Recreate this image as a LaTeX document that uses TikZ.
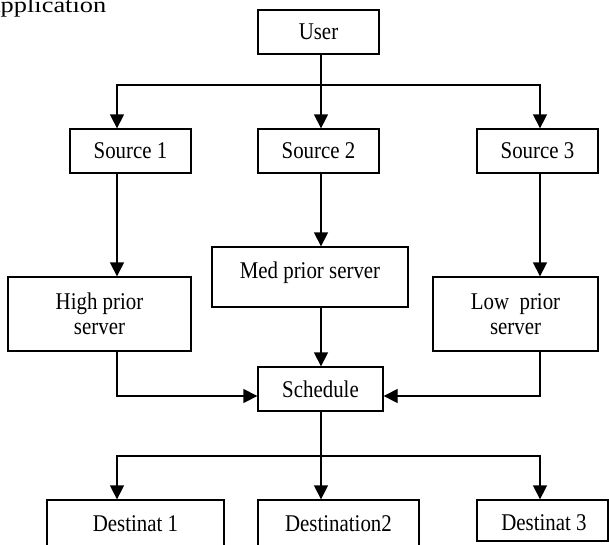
\documentclass[tikz,border=0pt]{standalone}
\usepackage{fontspec}
% Times-like serif, slightly condensed
\setmainfont{Liberation Serif}[FakeStretch=0.87]
% wide variant for the heading
\newfontfamily\titlefont{Liberation Serif}[FakeStretch=1.2]
\usetikzlibrary{arrows.meta,calc}

\begin{document}
\begin{tikzpicture}[x=1pt,y=-1pt,
  box/.style={draw, line width=1.3pt, inner sep=0pt, align=center,
              font=\fontsize{24}{25}\selectfont},
  txt/.style={inner sep=0pt, align=center, font=\fontsize{24}{25}\selectfont},
  flow/.style={line width=1.3pt, -{Triangle[width=14pt,length=14pt]}},
  wire/.style={line width=1.3pt}]
\useasboundingbox (0,0) rectangle (609,544);

% heading (partly outside the page)
\node[anchor=base east, inner sep=0pt, font=\titlefont\fontsize{22}{25}\selectfont]
  (apptitle) at (106.5,12.3) {Application};

% column and bus positions
\coordinate (colA) at (117,0);
\coordinate (colB) at (321,0);
\coordinate (colC) at (540,0);
\coordinate (busTop) at (321,85);
\coordinate (rowIn) at (0,396);
\coordinate (busBot) at (321,456);

% boxes
\node[box, minimum width=121pt, minimum height=44pt] (user) at (318.5,32) {User};

\node[box, minimum width=121pt, minimum height=44pt] (src1) at (130.5,151) {Source 1};
\node[box, minimum width=121pt, minimum height=44pt] (src2) at (318.5,151) {Source 2};
\node[box, minimum width=121pt, minimum height=44pt] (src3) at (537.5,151) {Source 3};

\node[box, minimum width=183pt, minimum height=74pt] (high) at (99.5,314) {High prior\\server};
\node[box, minimum width=196pt, minimum height=60pt] (med) at (310,277) {};
\node[txt] (medtext) at (310,272.5) {Med prior server};
\node[box, minimum width=165pt, minimum height=74pt] (low) at (515.5,314) {Low\ \ prior\\server};

\node[box, minimum width=125pt, minimum height=44pt] (sched) at (320.5,389) {Schedule};

\node[box, minimum width=177pt, minimum height=48pt] (dest1) at (135.5,524) {Destinat 1};
\node[box, minimum width=161pt, minimum height=48pt] (dest2) at (338.5,524) {Destination2};
\node[box, minimum width=131pt, minimum height=41pt] (dest3) at (542.5,520.5) {};
\node[txt] (dest3text) at (544,523) {Destinat 3};

% user fans out to the sources
\draw[wire] (user.south -| colB) -- (busTop);
\draw[flow] (busTop) -| (src1.north -| colA);
\draw[flow] (busTop) -| (src3.north -| colC);
\draw[flow] (busTop) -- (src2.north -| colB);

% sources to servers
\draw[flow] (src1.south -| colA) -- (high.north -| colA);
\draw[flow] (src2.south -| colB) -- (med.north -| colB);
\draw[flow] (src3.south -| colC) -- (low.north -| colC);

% servers to scheduler
\draw[flow] (high.south -| colA) |- (sched.west |- rowIn);
\draw[flow] (low.south -| colC) |- (sched.east |- rowIn);
\draw[flow] (med.south -| colB) -- (sched.north -| colB);

% scheduler to destinations
\draw[wire] (sched.south -| colB) -- (busBot);
\draw[flow] (busBot) -| (dest1.north -| colA);
\draw[flow] (busBot) -| (dest3.north -| colC);
\draw[flow] (busBot) -- (dest2.north -| colB);
\end{tikzpicture}
\end{document}
